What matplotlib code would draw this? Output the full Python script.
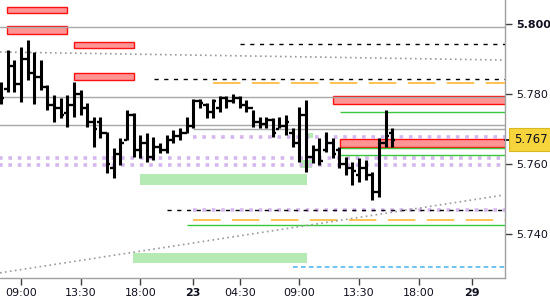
import matplotlib
matplotlib.use("Agg")
import matplotlib.pyplot as plt
import matplotlib.transforms as mtransforms
from matplotlib.patches import Rectangle

# --- 30 min OHLC bars ---
opens = [5.7800, 5.7815, 5.7880, 5.7830, 5.7900, 5.7860, 5.7850, 5.7820, 5.7770, 5.7760,
         5.7745, 5.7770, 5.7800, 5.7760, 5.7720, 5.7720, 5.7690, 5.7590, 5.7630, 5.7670,
         5.7740, 5.7640, 5.7660, 5.7620, 5.7650, 5.7640, 5.7670, 5.7680, 5.7690, 5.7710,
         5.7780, 5.7770, 5.7750, 5.7760, 5.7790, 5.7780, 5.7790, 5.7770, 5.7760, 5.7720,
         5.7715, 5.7725, 5.7700, 5.7710, 5.7690, 5.7660, 5.7740, 5.7620, 5.7640, 5.7640,
         5.7660, 5.7640, 5.7600, 5.7590, 5.7570, 5.7590, 5.7570, 5.7520, 5.7660, 5.7690]
highs = [5.7834, 5.7926, 5.7897, 5.7934, 5.7954, 5.7920, 5.7897, 5.7826, 5.7797, 5.7789,
         5.7797, 5.7834, 5.7811, 5.7774, 5.7734, 5.7734, 5.7691, 5.7646, 5.7674, 5.7754,
         5.7746, 5.7683, 5.7689, 5.7677, 5.7660, 5.7683, 5.7697, 5.7703, 5.7734, 5.7786,
         5.7786, 5.7774, 5.7786, 5.7794, 5.7794, 5.7800, 5.7794, 5.7783, 5.7754, 5.7734,
         5.7734, 5.7731, 5.7734, 5.7740, 5.7703, 5.7763, 5.7783, 5.7654, 5.7674, 5.7691,
         5.7674, 5.7649, 5.7620, 5.7606, 5.7617, 5.7611, 5.7577, 5.7674, 5.7754, 5.7703]
lows = [5.7771, 5.7806, 5.7806, 5.7777, 5.7840, 5.7771, 5.7811, 5.7754, 5.7720, 5.7731,
        5.7706, 5.7734, 5.7740, 5.7706, 5.7649, 5.7674, 5.7574, 5.7560, 5.7597, 5.7669,
        5.7620, 5.7617, 5.7606, 5.7611, 5.7631, 5.7631, 5.7660, 5.7669, 5.7689, 5.7703,
        5.7760, 5.7731, 5.7731, 5.7749, 5.7760, 5.7774, 5.7760, 5.7749, 5.7706, 5.7703,
        5.7703, 5.7677, 5.7703, 5.7683, 5.7649, 5.7606, 5.7577, 5.7603, 5.7597, 5.7634,
        5.7617, 5.7589, 5.7569, 5.7540, 5.7549, 5.7554, 5.7497, 5.7506, 5.7649, 5.7649]
closes = [5.7790, 5.7880, 5.7830, 5.7900, 5.7860, 5.7850, 5.7820, 5.7770, 5.7760, 5.7740,
          5.7770, 5.7800, 5.7760, 5.7720, 5.7700, 5.7690, 5.7600, 5.7630, 5.7660, 5.7740,
          5.7640, 5.7660, 5.7620, 5.7650, 5.7640, 5.7670, 5.7680, 5.7690, 5.7710, 5.7780,
          5.7775, 5.7750, 5.7780, 5.7790, 5.7780, 5.7790, 5.7770, 5.7760, 5.7720, 5.7715,
          5.7725, 5.7690, 5.7710, 5.7720, 5.7660, 5.7740, 5.7620, 5.7640, 5.7610, 5.7660,
          5.7630, 5.7600, 5.7590, 5.7580, 5.7590, 5.7570, 5.7520, 5.7660, 5.7680, 5.7670]
last_price = 5.767

tick_pos = [3, 12, 21, 29, 36, 45, 54, 63, 71]
tick_labels = ["09:00", "13:30", "18:00", "23", "04:30", "09:00", "13:30", "18:00", "29"]
y_ticks = [5.740, 5.760, 5.780, 5.800]

# zones: (start, end, low, high); end None = to the right edge
red_zones = [(0.9, 9.95, 5.8031, 5.8049), (0.9, 9.95, 5.7971, 5.7994),
             (11.0, 20.06, 5.7931, 5.7949), (11.0, 20.06, 5.7840, 5.7860),
             (50.1, None, 5.7771, 5.7794), (51.1, None, 5.7649, 5.7671)]
green_zones = [(20.97, 46.15, 5.7540, 5.7571), (19.9, 46.15, 5.7317, 5.7346),
               (45.1, 46.9, 5.7589, 5.7611), (46.3, 47.1, 5.7674, 5.7689)]

# horizontal levels: (start, price)
gray_levels = [(-1, 5.7991), (-1, 5.7791), (-1, 5.7711), (29, 5.7700)]
black_dashed = [(36.05, 5.7943), (23.08, 5.7843), (25.04, 5.7469)]
orange_dashed = [(31.98, 5.7831), (28.96, 5.7440)]
blue_dashed = [(44.04, 5.7306)]
green_levels = [(51.1, 5.7749), (51.1, 5.7646), (51.1, 5.7626), (28.05, 5.7426)]
purple_levels = [(-1, 5.7617), (-1, 5.7597), (29, 5.7677), (29, 5.7469)]

# trend lines: (x0, p0, x1, p1)
trend_lines = [(-0.15, 5.7920, 76.0, 5.7897), (-0.15, 5.7289, 75.7, 5.7511)]

x_min, x_max = -0.15, 76.0
y_min, y_max = 5.72743, 5.80686

fig = plt.figure(figsize=(5.5, 3.0), dpi=100)
ax = fig.add_axes([0.0, 0.0733, 0.918, 0.9267])
ax.set_xlim(x_min, x_max)
ax.set_ylim(y_min, y_max)

for x0, x1, lo, hi in red_zones:
    x1 = x_max + 1 if x1 is None else x1
    ax.add_patch(Rectangle((x0, lo), x1 - x0, hi - lo, fc="#FF9494", ec="#FF1010", lw=1.0, zorder=2))
for x0, x1, lo, hi in green_zones:
    ax.add_patch(Rectangle((x0, lo), x1 - x0, hi - lo, fc="#B5EAB5", ec="none", zorder=1))

for x0, p in gray_levels:
    ax.hlines(p, x0, x_max + 1, color="#A8A8A8", lw=1.0, zorder=2)
for x0, p in purple_levels:
    ax.hlines(p, x0, x_max + 1, color="#D6B6EE", lw=2.6, linestyles=(0, (1, 1.6)), zorder=2)
for x0, p in black_dashed:
    ax.hlines(p, x0, x_max + 1, color="black", lw=1.0, linestyles=(0, (3, 4)), zorder=3)
for x0, p in orange_dashed:
    ax.hlines(p, x0, x_max + 1, color="#FFB020", lw=1.1, linestyles=(0, (18, 7.5)), zorder=3)
for x0, p in blue_dashed:
    ax.hlines(p, x0, x_max + 1, color="#45B0F0", lw=1.1, linestyles=(0, (3, 2.2)), zorder=3)
for x0, p in green_levels:
    ax.hlines(p, x0, x_max + 1, color="#3CC83C", lw=1.0, zorder=3)
for x0, p0, x1, p1 in trend_lines:
    ax.plot([x0, x1], [p0, p1], color="#9A9A9A", lw=1.2, ls=(0, (1, 2)), zorder=3)

# OHLC bars
xs = list(range(len(opens)))
ax.vlines(xs, lows, highs, color="black", lw=2.2, zorder=5)
ax.hlines(opens, [x - 0.5 for x in xs], xs, color="black", lw=1.7, zorder=5)
ax.hlines(closes, xs, [x + 0.5 for x in xs], color="black", lw=1.7, zorder=5)

for s in ["top", "left"]:
    ax.spines[s].set_visible(False)
for s in ["right", "bottom"]:
    ax.spines[s].set_color("#A0A0A0")
    ax.spines[s].set_linewidth(1.0)

ax.yaxis.tick_right()
ax.set_yticks(y_ticks)
ax.set_yticklabels([f"{v:.3f}" for v in y_ticks])
ax.set_xticks(tick_pos)
ax.set_xticklabels(tick_labels)
ax.tick_params(axis="both", colors="#404040", labelcolor="#101020", labelsize=8, length=5, width=1)
ax.tick_params(axis="y", pad=3)
ax.tick_params(axis="x", pad=2)
for lab in ax.get_xticklabels():
    if lab.get_text() in ("23", "29"):
        lab.set_fontweight("bold")
for lab in ax.get_yticklabels():
    if lab.get_text() == "5.800":
        lab.set_fontweight("bold")

# last price marker
trans = mtransforms.blended_transform_factory(ax.transAxes, ax.transData)
ax.plot([1.0, 1.012], [last_price, last_price], color="black", lw=1.2, transform=trans, clip_on=False)
ax.text(1.018, last_price, f"{last_price:.3f}", transform=trans, fontsize=8.5, color="#101020",
        va="center", ha="left",
        bbox=dict(boxstyle="square,pad=0.45", fc="#F6D43C", ec="#D8B820", lw=0.8))

fig.savefig("out.png", dpi=100)
